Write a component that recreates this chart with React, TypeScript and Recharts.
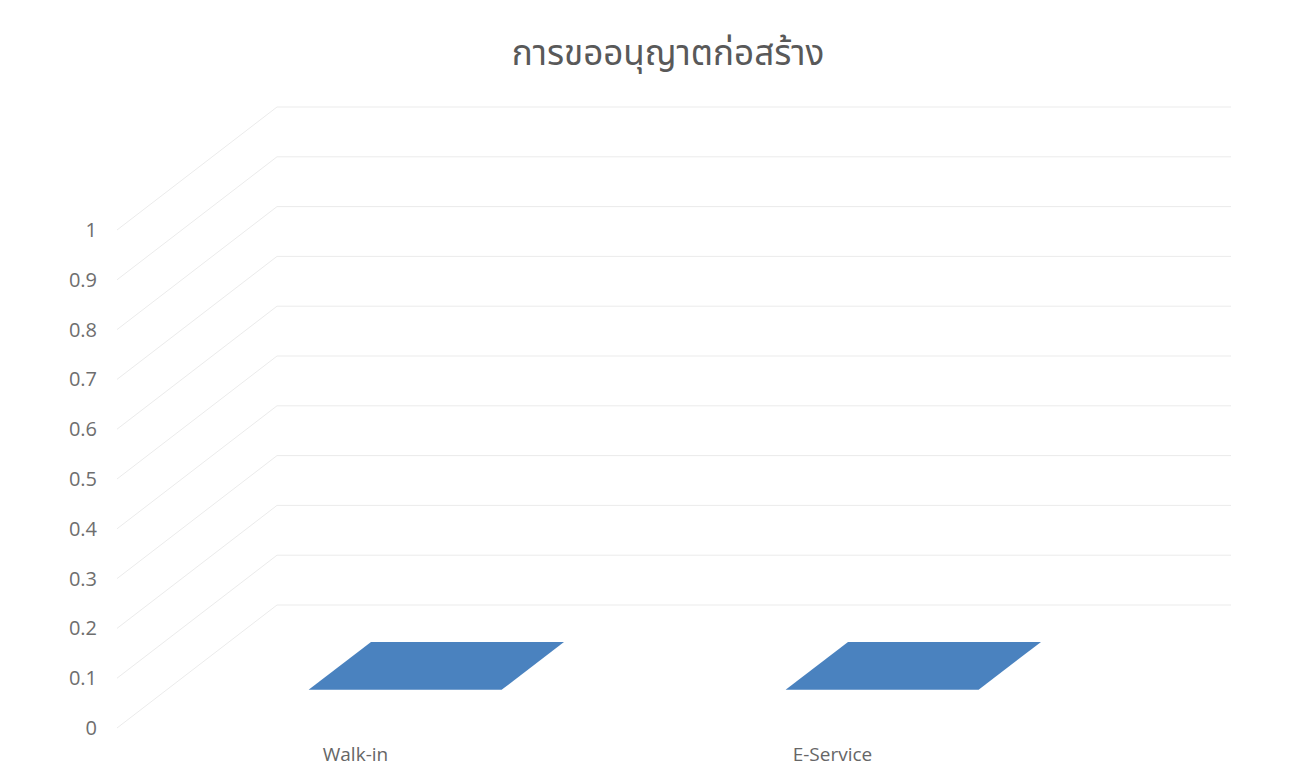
import { BarChart, Bar, XAxis, YAxis } from 'recharts';

const categories = ['Walk-in', 'E-Service'];
const permitCounts = [0, 0];
const yTicks = [0, 0.1, 0.2, 0.3, 0.4, 0.5, 0.6, 0.7, 0.8, 0.9, 1];
const chartTitle = 'การขออนุญาตก่อสร้าง';

const data = categories.map((name, i) => ({ name, value: permitCounts[i] }));

// fake 3d: how far the back wall sits from the front plane
const DEPTH_X = 160;
const DEPTH_Y = -123;
const W = 1300;
const H = 766;
const MARGIN = { top: 230, right: 229, bottom: 0, left: 0 };
const AXIS_W = 117;
const GRID = '#ebebeb';
const FONT = '"Open Sans", "Noto Sans", sans-serif';

// y tick label + the side wall / back wall gridline for the same value
const WallTick = (props: any) => {
  const { x, y, payload } = props;
  const left = AXIS_W;
  const right = W - MARGIN.right;
  return (
    <g>
      <line x1={left} y1={y} x2={left + DEPTH_X} y2={y + DEPTH_Y} stroke={GRID} strokeWidth={1} />
      <line x1={left + DEPTH_X} y1={y + DEPTH_Y} x2={right + DEPTH_X} y2={y + DEPTH_Y} stroke={GRID} strokeWidth={1} />
      <text x={x} y={y} dy="0.35em" textAnchor="end" fill="#6e6e6e" fontSize={20} fontFamily={FONT}>
        {payload.value}
      </text>
    </g>
  );
};

// zero height bar drawn as its floor: a parallelogram inside the depth
const FlatBar = (props: any) => {
  const { x, y, width } = props;
  const f1 = 0.31;
  const f2 = 0.7;
  const pts = [
    [x + DEPTH_X * f1, y + DEPTH_Y * f1],
    [x + width + DEPTH_X * f1, y + DEPTH_Y * f1],
    [x + width + DEPTH_X * f2, y + DEPTH_Y * f2],
    [x + DEPTH_X * f2, y + DEPTH_Y * f2],
  ]
    .map((p) => p.join(','))
    .join(' ');
  return <polygon points={pts} fill="#4a82bf" />;
};

export default function App() {
  return (
    <div style={{ position: 'absolute', left: 0, top: 0, width: W, height: H, background: '#fff' }}>
      <div
        style={{
          position: 'absolute',
          left: 0,
          right: 0,
          top: 28,
          textAlign: 'center',
          fontFamily: '"Noto Sans Thai", "Leelawadee UI", Tahoma, "Noto Sans", sans-serif',
          fontSize: 35,
          color: '#595959',
          paddingLeft: 36,
        }}
      >
        {chartTitle}
      </div>
      <BarChart width={W} height={H} data={data} margin={MARGIN} barSize={193}>
        <XAxis
          dataKey="name"
          height={38}
          axisLine={false}
          tickLine={false}
          tickSize={0}
          tickMargin={20}
          tick={{ fill: '#666', fontSize: 19, fontFamily: FONT }}
        />
        <YAxis
          domain={[0, 1]}
          ticks={yTicks}
          width={AXIS_W}
          axisLine={false}
          tickLine={false}
          tickSize={0}
          tickMargin={20}
          interval={0}
          tick={<WallTick />}
        />
        <Bar dataKey="value" shape={<FlatBar />} isAnimationActive={false} />
      </BarChart>
    </div>
  );
}
